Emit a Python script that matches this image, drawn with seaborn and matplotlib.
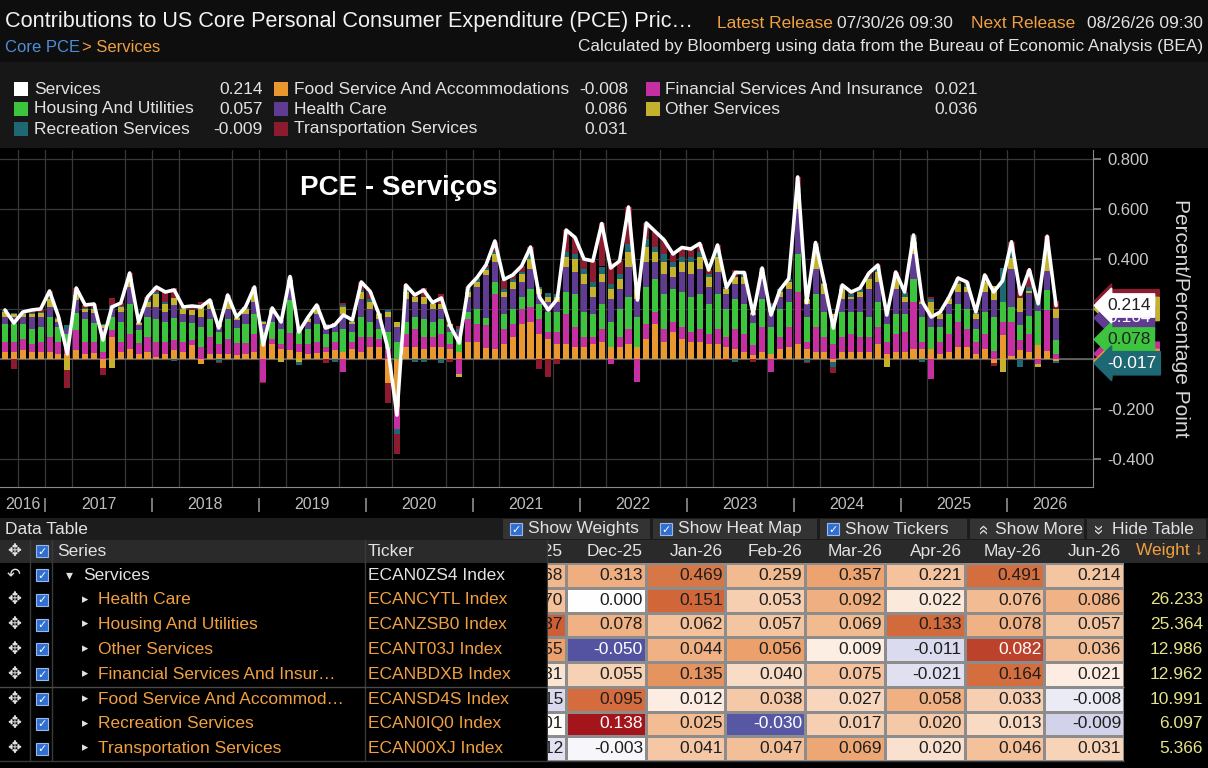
import numpy as np
import pandas as pd
import matplotlib
matplotlib.use('Agg')
import matplotlib.pyplot as plt
import seaborn as sns
from matplotlib.patches import Rectangle
from matplotlib.colors import LinearSegmentedColormap
from matplotlib.transforms import blended_transform_factory

W, H = 1208, 768

# monthly contributions, Aug-2016 .. Jun-2026
months = pd.period_range('2016-08', '2026-06', freq='M')

services = [.196, .144, .188, .196, .200, .272, .170, .020, .284, .216,
            .220, .076, .208, .224, .344, .148, .248, .288, .268, .276,
            .208, .212, .208, .236, .124, .256, .168, .208, .288, .056,
            .204, .148, .330, .108, .166, .216, .124, .136, .176, .156,
            .308, .270, .178, .040, -.224, .296, .256, .276, .226, .244,
            .132, .064, .288, .326, .376, .472, .318, .336, .372, .448,
            .248, .196, .240, .516, .486, .400, .392, .542, .364, .392,
            .608, .236, .544, .510, .476, .420, .446, .440, .462, .356,
            .456, .286, .346, .346, .180, .364, .176, .276, .322, .728,
            .225, .466, .304, .124, .296, .268, .284, .344, .376, .176,
            .348, .268, .496, .228, .168, .188, .248, .324, .308, .188,
            .336, .268, .313, .469, .259, .357, .221, .491, .214]

food = [.03, .03, .035, .03, .03, .03, .02, .02, .035, .02,
        .025, -.035, .09, .03, .04, .02, .03, .01, .02, .035,
        .03, .055, -.02, .02, .02, .02, .015, .02, .03, .06,
        .06, .04, .035, .03, .02, .025, .03, .035, .03, .04,
        .03, .05, .05, -.095, -.19, .05, .05, .04, .05, .05,
        .04, .03, .07, .07, .045, .04, .06, .09, .14, .15,
        .10, .08, .06, .06, .05, .05, .06, .07, .05, .05,
        .06, .05, .08, .14, .07, .11, .08, .07, .07, .06,
        .06, .05, .04, .03, .015, .03, .02, .04, .05, .06,
        .04, .03, .03, -.01, .03, .03, .03, .03, .06, .02,
        .03, .03, .04, .04, .04, .02, .03, .05, .05, .02,
        .04, -.015, .095, .012, .038, .027, .058, .033, -.008]

financial = [.04, .04, .045, .03, .04, .06, .05, .04, .08, .05,
             .045, .03, .025, .04, .06, .045, .06, .06, .05, .04,
             .04, .02, .05, .07, .04, .06, .05, .045, .07, -.09,
             .02, .02, .07, .03, .04, .045, .02, .035, -.05, .03,
             .06, .04, .03, .04, -.09, .05, .07, .05, .04, .05,
             .02, -.06, .09, .07, .09, .22, .06, .05, .06, .06,
             .06, .03, .05, .12, .08, .04, .03, .05, -.02, .04,
             .06, -.09, .06, .05, .05, .04, .05, .04, .05, .04,
             .06, .04, .08, .07, .04, .10, -.05, .05, .08, .21,
             .03, .10, .06, .06, .06, .07, .06, .06, .07, .05,
             .07, .08, .19, .03, -.08, .05, .07, .10, .07, .05,
             .06, .031, .055, .135, .040, .075, -.021, .164, .021]

housing = [.07, .07, .06, .06, .06, .08, .06, .04, .07, .09,
           .075, .07, .055, .08, .12, .05, .08, .09, .08, .09,
           .08, .07, .08, .07, .05, .08, .06, .075, .08, .05,
           .07, .06, .13, .05, .06, .07, .05, .04, .09, .04,
           .08, .06, .04, .07, .07, .05, .05, .07, .06, .06,
           .05, .06, .03, .06, .03, .05, .06, .06, .05, .07,
           .06, .08, .08, .09, .13, .10, .09, .10, .10, .11,
           .13, .12, .15, .13, .14, .13, .14, .14, .14, .12,
           .14, .11, .12, .12, .09, .11, .11, .11, .10, .15,
           .10, .13, .10, .08, .10, .09, .10, .08, .10, .07,
           .08, .07, .09, .10, .09, .06, .08, .07, .08, .05,
           .09, .137, .078, .062, .057, .069, .133, .078, .057]

health = [.03, .03, .03, .05, .04, .04, .02, .02, .05, .03,
          .04, .025, .03, .04, .07, .02, .04, .05, .04, .05,
          .03, .03, .04, .04, .02, .04, .03, .04, .05, .03,
          .03, .03, .05, .02, .03, .04, .025, .03, .06, .03,
          .07, .05, .04, .06, .06, .09, .06, .06, .05, .04,
          .02, .02, .06, .09, .17, .08, .07, .08, .06, .08,
          .04, .04, .04, .10, .09, .11, .07, .09, .09, .08,
          .12, .07, .10, .07, .08, .05, .08, .09, .10, .07,
          .09, .06, .06, .08, .03, .08, .06, .05, .05, .18,
          .05, .10, .07, .03, .05, .05, .06, .11, .08, .04,
          .10, .05, .10, .05, .05, .03, .04, .05, .07, .04,
          .08, .070, .000, .151, .053, .092, .022, .076, .086]

other = [.02, .01, .01, .01, .015, .03, .01, -.045, .02, .01,
         .015, .01, -.035, .02, .03, .01, .02, .05, .03, .03,
         .02, .02, .04, .03, .01, .04, .01, .02, .04, .01,
         .015, -.01, .03, -.01, .01, .025, .01, .005, .03, .01,
         .03, .03, .02, .02, .02, .03, .02, .03, .02, .02,
         .01, -.01, .02, .02, .02, .03, .02, .03, .03, .04,
         .02, .02, .02, .04, .05, .04, .04, .03, .04, .04,
         .06, .04, .06, .04, .05, .04, .04, .05, .05, .04,
         .06, .02, .03, .03, .01, .03, .02, .02, .03, .06,
         .02, .09, .04, .01, .04, .01, .02, .04, .04, -.03,
         .05, .02, .05, .01, .05, .02, .02, .03, .02, .02,
         .04, .055, -.050, .044, .056, .009, -.011, .082, .036]

recreation = [.005, .004, .003, .006, .005, .007, .005, .015, .004, .006,
              .005, .006, .018, .004, .004, .003, .008, .008, .008, -.009,
              .003, .002, .003, .006, -.01, .006, .003, .003, .008, .001,
              .004, .008, .005, -.012, .004, .006, .004, -.01, .006, .002,
              .008, .01, .003, .005, -.02, .01, -.01, -.01, .006, -.016,
              .002, .01, .01, .01, .01, .01, .01, .01, .01, .02,
              .008, .016, .01, .02, .02, .02, .02, .03, .02, .02,
              .03, .01, .03, .02, .03, .02, .02, .02, .02, .01,
              .02, .01, -.01, .01, .005, .01, .01, .01, .01, .03,
              -.01, .01, .004, -.02, .01, .01, .01, .01, .01, .01,
              .01, .015, .02, -.01, .01, .004, .004, .01, .01, .004,
              .01, .001, .138, .025, -.030, .017, .020, .013, -.009]

transportation = [.001, -.04, .005, .01, .01, .025, .005, -.07, .025, .01,
                  .015, -.03, .025, .01, .02, .0, .01, .02, .04, .04,
                  .005, .015, .015, .0, -.006, .01, .0, .005, .01, -.005,
                  .005, .0, .01, .0, .002, .005, -.015, .001, .01, .004,
                  .03, .03, -.005, -.08, -.08, .016, .016, .036, .0, .04,
                  -.01, .014, .008, .006, .011, .04, .038, .016, .022, .028,
                  -.04, -.07, -.02, .086, .066, .04, .082, .172, .084, .052,
                  .148, .036, .064, .06, .056, .03, .036, .03, .032, .016,
                  .026, -.004, .026, .006, -.01, .004, .006, -.004, .002, .038,
                  -.005, .006, .0, -.026, .006, .008, .004, .014, .016, .006,
                  .008, .003, .006, .008, .01, .004, .004, .014, .008, .004,
                  .016, -.012, -.003, .041, .047, .069, .020, .046, .031]

COLORS = {
    'Services': '#ffffff',
    'Housing And Utilities': '#3dc43f',
    'Recreation Services': '#1d6872',
    'Food Service And Accommodations': '#e8982e',
    'Health Care': '#5f3b92',
    'Transportation Services': '#8c1b2f',
    'Financial Services And Insurance': '#c62fa2',
    'Other Services': '#c4b22c',
}

# bars are stacked away from zero in this order
stack = [('Food Service And Accommodations', food),
         ('Financial Services And Insurance', financial),
         ('Housing And Utilities', housing),
         ('Health Care', health),
         ('Other Services', other),
         ('Recreation Services', recreation),
         ('Transportation Services', transportation)]
series = dict(stack)
series['Services'] = services

legend_columns = [['Services', 'Housing And Utilities', 'Recreation Services'],
                  ['Food Service And Accommodations', 'Health Care', 'Transportation Services'],
                  ['Financial Services And Insurance', 'Other Services']]

table_names = ['Services', 'Health Care', 'Housing And Utilities', 'Other Services',
               'Financial Services And Insur\u2026', 'Food Service And Accommod\u2026',
               'Recreation Services', 'Transportation Services']
table_series = [services, health, housing, other, financial, food, recreation, transportation]
tickers = ['ECAN0ZS4 Index', 'ECANCYTL Index', 'ECANZSB0 Index', 'ECANT03J Index',
           'ECANBDXB Index', 'ECANSD4S Index', 'ECAN0IQ0 Index', 'ECAN00XJ Index']
weights = [None, 26.233, 25.364, 12.986, 12.962, 10.991, 6.097, 5.366]
heat_scale = [0.6, 0.18, 0.16, 0.09, 0.2, 0.115, 0.06, 0.12]

ORANGE = '#f0a040'
TXT = '#e2e2e2'

sns.set_style('dark')
plt.rcParams['font.family'] = ['Liberation Sans', 'DejaVu Sans']


def px_axes(fig, x0, y0, x1, y1, **kw):
    return fig.add_axes([x0 / W, 1 - y1 / H, (x1 - x0) / W, (y1 - y0) / H], **kw)


def checkbox(ax, x, y, s=12):
    ax.add_patch(Rectangle((x, y - s / 2), s, s, fc='#2f6fd0', ec='#9bb8e8', lw=0.8, zorder=3))
    ax.text(x + s / 2, y + 0.5, '\u2713', color='white', fontsize=8, fontweight='bold',
            ha='center', va='center', zorder=4)


fig = plt.figure(figsize=(W / 100, H / 100), dpi=100, facecolor='black')

# ---------- background / header / legend / table (pixel coords) ----------
ui = px_axes(fig, 0, 0, W, H)
ui.set_xlim(0, W)
ui.set_ylim(H, 0)
ui.axis('off')

ui.add_patch(Rectangle((0, 0), W, 62, fc='#0e0e0e', lw=0))
ui.add_patch(Rectangle((0, 62), W, 86, fc='#171717', lw=0))

ui.text(5, 22, 'Contributions to US Core Personal Consumer Expenditure (PCE) Pric\u2026',
        color='#f2f2f2', fontsize=15.6, va='center')
ui.text(717, 23, 'Latest Release', color=ORANGE, fontsize=12.5, va='center')
ui.text(837, 23, '07/30/26 09:30', color=TXT, fontsize=12.5, va='center')
ui.text(971, 23, 'Next Release', color=ORANGE, fontsize=12.5, va='center')
ui.text(1203, 23, '08/26/26 09:30', color=TXT, fontsize=12.5, va='center', ha='right')
ui.text(5, 47, 'Core PCE', color='#4d8fd6', fontsize=12, va='center')
ui.text(82, 47, '> Services', color=ORANGE, fontsize=12, va='center')
ui.text(1203, 47, 'Calculated by Bloomberg using data from the Bureau of Economic Analysis (BEA)',
        color=TXT, fontsize=12.4, va='center', ha='right')

col_x = [(14, 34, 263), (274, 294, 628), (646, 665, 978)]
for (sq, nx, vx), names in zip(col_x, legend_columns):
    for r, name in enumerate(names):
        y = 89 + 20 * r
        ui.add_patch(Rectangle((sq, y - 7), 14, 14, fc=COLORS[name], lw=0))
        ui.text(nx, y, name, color=TXT, fontsize=12.5, va='center')
        ui.text(vx, y, f'{series[name][-1]:.3f}', color=TXT, fontsize=12.5, va='center', ha='right')

# data table frame
ui.add_patch(Rectangle((0, 518), W, 22, fc='#1c1c1c', lw=0))
ui.add_patch(Rectangle((0, 540), W, 23, fc='#2a2a2a', lw=0))
ui.text(5, 529, 'Data Table', color=TXT, fontsize=12.5, va='center')
buttons = [(503, 650, 'Show Weights', 'box'), (653, 817, 'Show Heat Map', 'box'),
           (820, 967, 'Show Tickers', 'box'), (970, 1084, 'Show More', 'up'),
           (1087, 1206, 'Hide Table', 'down')]
for x0, x1, label, icon in buttons:
    ui.add_patch(Rectangle((x0, 519), x1 - x0, 20, fc='#333333', lw=0))
    if icon == 'box':
        checkbox(ui, x0 + 7, 529)
    else:
        ui.text(x0 + 12, 529, '\u00ab', color=TXT, fontsize=13, ha='center', va='center',
                rotation=-90 if icon == 'up' else 90)
    ui.text(x0 + 25, 529, label, color=TXT, fontsize=12.5, va='center')

ui.text(14, 551, '\u2725', color=TXT, fontsize=12, ha='center', va='center')
checkbox(ui, 36, 551)
ui.text(57, 551, 'Series', color=TXT, fontsize=12.5, va='center')
ui.text(368, 551, 'Ticker', color=TXT, fontsize=12.5, va='center')
ui.text(1203, 551, 'Weight \u2193', color=ORANGE, fontsize=12.5, va='center', ha='right')

for r, (name, tick, wgt) in enumerate(zip(table_names, tickers, weights)):
    y = 575 + 24.8 * r
    col = TXT if r == 0 else ORANGE
    ui.text(14, y, '\u21b6' if r == 0 else '\u2725', color=TXT, fontsize=12, ha='center', va='center')
    checkbox(ui, 36, y)
    if r == 0:
        ui.text(66, y, '\u25be', color=TXT, fontsize=10, va='center')
        ui.text(83, y, name, color=col, fontsize=12.5, va='center')
    else:
        ui.text(82, y, '\u25b8', color=TXT, fontsize=9, va='center')
        ui.text(98, y, name, color=col, fontsize=12.5, va='center')
    ui.text(368, y, tick, color=col, fontsize=12.5, va='center')
    if wgt is not None:
        ui.text(1203, y, f'{wgt:.3f}', color='#e6e38a', fontsize=12.5, va='center', ha='right')

for xv in (30, 52, 365, 547):
    ui.plot([xv, xv], [540, 761], color='#3a3a3a', lw=1)
ui.plot([0, 1124], [687, 687], color='#4a4a4a', lw=1)
ui.plot([0, 1124], [761, 761], color='#3a3a3a', lw=1)

# ---------- heat map ----------
col_labels = [m.strftime('%b-%y') for m in months[-8:]]
vals = np.array([s[-8:] for s in table_series])
norm = np.clip(vals / np.array(heat_scale)[:, None], -1, 1)
norm_df = pd.DataFrame(norm, columns=col_labels)
annot_df = pd.DataFrame([[f'{v:.3f}' for v in row] for row in vals], columns=col_labels)

cmap = LinearSegmentedColormap.from_list('bbg', [
    (0.0, '#3c3c8c'), (0.25, '#5656a4'), (0.4, '#c4c4e4'), (0.5, '#ffffff'),
    (0.6, '#f9dcc6'), (0.72, '#f2b98e'), (0.82, '#eb9e68'), (0.92, '#d2693a'),
    (1.0, '#a3151a')])

first_col = 8 - (1124 - 548) / ((1124 - 566) / 7)
hm = px_axes(fig, 548, 563, 1124, 761)
sns.heatmap(norm_df, annot=annot_df, fmt='', cmap=cmap, vmin=-1, vmax=1, cbar=False,
            linewidths=0.8, linecolor='#8c8c8c', xticklabels=False, yticklabels=False,
            annot_kws={'fontsize': 12.5}, ax=hm)
hm.set_xlim(first_col, 8)
hm.set_ylim(8, 0)
hm.set_xlabel('')
hm.set_ylabel('')
for t in hm.texts:
    x, y = t.get_position()
    r, c = int(y), int(x)
    t.set_position((c + 0.965, y))
    t.set_ha('right')
    t.set_clip_on(True)
    t.set_color('white' if (norm[r, c] > 0.88 or norm[r, c] < -0.4) else '#1e1e1e')

hdr = px_axes(fig, 548, 540, 1124, 563)
hdr.set_xlim(first_col, 8)
hdr.set_ylim(1, 0)
hdr.axis('off')
for c, lab in enumerate(col_labels):
    hdr.text(c + 0.965, 0.5, lab, color=TXT, fontsize=12.5, ha='right', va='center', clip_on=True)

# ---------- chart ----------
ax = px_axes(fig, 0, 150, 1093, 487)
ax.set_facecolor('black')
x = np.arange(len(months))
pos_base = np.zeros(len(x))
neg_base = np.zeros(len(x))
for name, v in stack:
    v = np.asarray(v)
    ax.bar(x, v, bottom=np.where(v >= 0, pos_base, neg_base), width=0.68,
           color=COLORS[name], linewidth=0, zorder=2)
    pos_base += np.where(v >= 0, v, 0)
    neg_base += np.where(v < 0, v, 0)

sns.lineplot(x=x, y=services, ax=ax, color='white', linewidth=2.6, zorder=4)

x_left = -5 / 8.907
x_right = (1093 - 5) / 8.907
ax.set_xlim(x_left, x_right)
ax.set_ylim(-0.512, 0.836)

month_num = np.array([m.month for m in months])
year_num = np.array([m.year for m in months])
quarter_bounds = x[np.isin(month_num, [1, 4, 7, 10])] - 0.5
year_bounds = x[month_num == 1] - 0.5
year_centers, year_labels = [], []
for yr in np.unique(year_num):
    idx = x[year_num == yr]
    lo = max(idx[0] - 0.5, x_left)
    hi = x_right if yr == year_num[-1] else idx[-1] + 0.5
    year_centers.append((lo + hi) / 2)
    year_labels.append(str(yr))

ax.set_xticks(year_centers)
ax.set_xticklabels(year_labels)
ax.set_xticks(quarter_bounds, minor=True)
ax.tick_params(axis='x', which='major', length=0, pad=7, labelsize=11.5, labelcolor='#bdbdbd')
ax.tick_params(axis='x', which='minor', length=4, color='#8a8a8a', direction='out')
trans = blended_transform_factory(ax.transData, ax.transAxes)
for b in year_bounds:
    ax.text(b, -0.053, '|', transform=trans, color='#bdbdbd', fontsize=11, ha='center', va='center')

# 0.200 and 0.000 sit under the value tags, as in the original
yt = np.round(np.arange(-0.4, 0.81, 0.2), 1)
ax.yaxis.tick_right()
ax.set_yticks(yt)
ax.set_yticklabels(['' if v in (0.0, 0.2) else f'{v:.3f}' for v in yt])
ax.set_yticks(np.round(np.arange(-0.5, 0.81, 0.1), 1)[1::2], minor=True)
ax.tick_params(axis='y', which='major', length=6, width=1.2, color='#8a8a8a',
               labelsize=12, labelcolor='#c8c8c8', pad=4)
ax.tick_params(axis='y', which='minor', length=4, color='#8a8a8a')
ax.grid(which='both', axis='both', color='#383838', linewidth=0.9)
ax.grid(which='major', axis='x', visible=False)
ax.axhline(0, color='#707070', lw=1.1, zorder=1.5)
ax.set_axisbelow(True)
for side in ('left', 'top'):
    ax.spines[side].set_visible(False)
for side in ('right', 'bottom'):
    ax.spines[side].set_color('#8a8a8a')
ax.set_xlabel('')
ax.set_ylabel('')

ax.text(300 / 1093, (487 - 188) / 337, 'PCE - Servi\u00e7os', transform=ax.transAxes,
        color='white', fontsize=20, fontweight='bold', va='center')
ax.text(1.0796, 0.5015, 'Percent/Percentage Point', transform=ax.transAxes, rotation=-90,
        color='#d8d8d8', fontsize=15, ha='center', va='center')

# value tags on the right axis, at the stacked levels of the last month
levels = {}
pos, neg = 0.0, 0.0
for name, v in stack:
    if v[-1] >= 0:
        pos += v[-1]
        levels[name] = pos
    else:
        neg += v[-1]
        levels[name] = neg
levels['Services'] = services[-1]
tag_order = ['Transportation Services', 'Other Services', 'Health Care',
             'Financial Services And Insurance', 'Food Service And Accommodations',
             'Housing And Utilities', 'Recreation Services', 'Services']
# tags whose number is fully covered by the ones drawn above them
covered = {'Transportation Services', 'Other Services',
           'Financial Services And Insurance', 'Food Service And Accommodations'}
dark_text = {'Services', 'Housing And Utilities', 'Other Services', 'Food Service And Accommodations'}
tag_trans = blended_transform_factory(ax.transAxes, ax.transData)
for z, name in enumerate(tag_order):
    label = '\u2007' * 5 if name in covered else f'{levels[name]:.3f}'
    ax.text(1.0128, levels[name], label, transform=tag_trans,
            color='#202020' if name in dark_text else 'white', fontsize=12.5,
            ha='left', va='center', zorder=10 + z,
            bbox=dict(boxstyle='larrow,pad=0.24', fc=COLORS[name], ec=COLORS[name]))

fig.savefig('out.png', dpi=100, facecolor='black')
